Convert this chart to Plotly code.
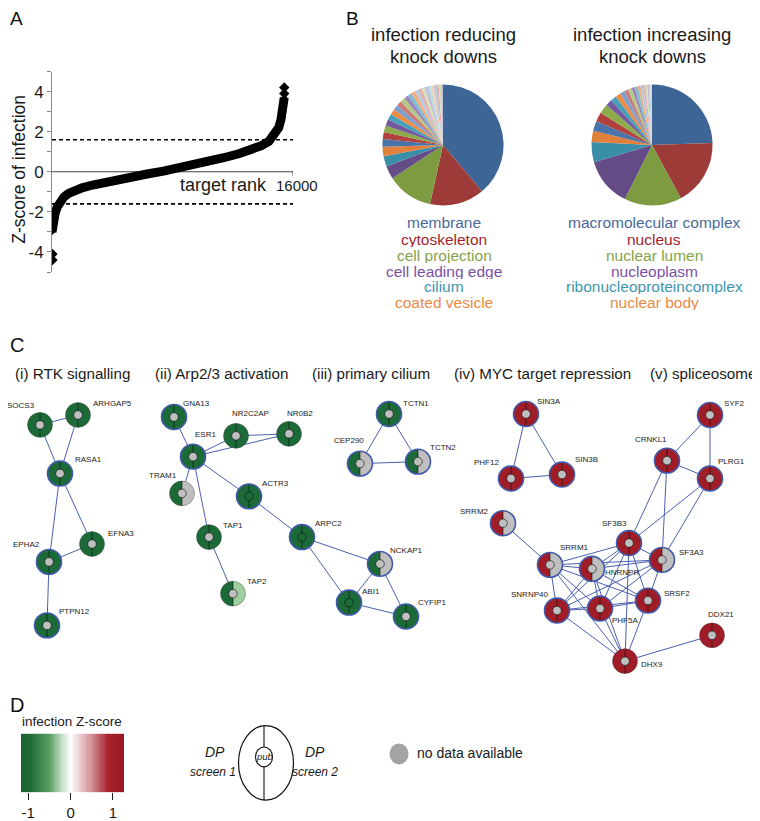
import numpy as np
import plotly.graph_objects as go

W, H = 760, 821          # reference picture size
OFF = 8                  # page body margin of the browser
FW, FH = W - OFF, H - OFF
FONT = "Liberation Sans, Arial, sans-serif"

# ================= Panel A data (ranked infection z-scores) =================
a_rank = [0, 40, 100, 200, 350, 550, 800, 1100, 1500, 2000, 2700, 3500, 4400,
          5400, 6400, 7400, 8400, 9400, 10400, 11400, 12400, 13200, 13900,
          14400, 14800, 15050, 15200, 15300, 15370, 15420]
a_z = [-3.0, -2.75, -2.45, -2.1, -1.75, -1.45, -1.25, -1.08, -0.93, -0.8, -0.66,
       -0.52, -0.38, -0.24, -0.1, 0.03, 0.17, 0.33, 0.5, 0.7, 0.9, 1.1, 1.3,
       1.52, 1.85, 2.2, 2.6, 3.0, 3.4, 3.7]
a_out_rank = [30, 30, 15420, 15420]
a_out_z = [-4.1, -4.4, 3.9, 4.2]
a_threshold = 1.6
a_rank_max = 16000
a_yticks = [-5, -4, -3, -2, -1, 0, 1, 2, 3, 4, 5]
a_yticklabels = ["", "-4", "", "-2", "", "0", "", "2", "", "4", ""]

# ================= Panel B data (GO cellular component shares, %) =================
b_reduce_named = ["membrane", "cytoskeleton", "cell projection",
                  "cell leading edge", "cilium", "coated vesicle"]
b_reduce_values = [39.2, 14.7, 12.4, 3.5, 2.8, 2.6,
                   2.0, 1.9, 1.8, 1.7, 1.6, 1.5, 1.4, 1.35, 1.3, 1.2, 1.1,
                   1.05, 1.0, 0.95, 0.9, 0.85, 0.8, 0.75, 0.7, 0.65, 0.6, 0.55]
b_increase_named = ["macromolecular complex", "nucleus", "nuclear lumen",
                    "nucleoplasm", "ribonucleoproteincomplex", "nuclear body"]
b_increase_values = [24.5, 17.6, 15.3, 13.0, 5.4, 3.0,
                     2.6, 2.5, 2.6, 1.7, 1.6, 1.4, 1.3, 1.0, 1.0, 0.9, 0.8,
                     0.7, 0.7, 0.6, 0.5, 0.5, 0.4, 0.4]

# ================= Panel C data (networks) =================
c_titles = ["(i) RTK signalling", "(ii) Arp2/3 activation", "(iii) primary cilium",
            "(iv) MYC target repression", "(v) spliceosome"]
# screen 1 / screen 2 / published: G = reducing, g = weakly reducing, R = increasing, N = no data
node_names = ["SOCS3", "ARHGAP5", "RASA1", "EFNA3", "EPHA2", "PTPN12",
              "GNA13", "ESR1", "NR2C2AP", "NR0B2", "TRAM1", "ACTR3", "TAP1", "TAP2",
              "ARPC2", "ABI1", "NCKAP1", "CYFIP1",
              "TCTN1", "CEP290", "TCTN2",
              "SIN3A", "PHF12", "SIN3B",
              "SYF2", "CRNKL1", "PLRG1", "SRRM2", "SF3B3", "SRRM1", "HNRNPR", "SF3A3",
              "SNRNP40", "PHF5A", "SRSF2", "DDX21", "DHX9"]
node_screen1 = ["G", "G", "G", "G", "G", "G",
                "G", "G", "G", "G", "G", "G", "G", "G", "G", "G", "G", "G",
                "G", "G", "G",
                "R", "R", "R",
                "R", "R", "R", "R", "R", "R", "R", "R", "R", "R", "R", "R", "R"]
node_screen2 = ["G", "G", "G", "G", "G", "G",
                "G", "G", "G", "G", "N", "G", "G", "g", "G", "G", "N", "G",
                "G", "N", "N",
                "R", "R", "R",
                "R", "R", "R", "N", "R", "N", "N", "N", "R", "R", "R", "R", "R"]
node_pub = ["N", "N", "N", "N", "N", "N",
            "N", "N", "N", "N", "N", "G", "N", "N", "G", "G", "N", "N",
            "N", "N", "N",
            "N", "N", "N",
            "N", "N", "N", "N", "N", "N", "N", "N", "N", "N", "N", "N", "N"]
node_ring = [0, 0, 1, 0, 1, 1,
             1, 1, 0, 0, 0, 1, 0, 0, 1, 1, 1, 1,
             1, 1, 1,
             1, 1, 1,
             1, 1, 1, 1, 1, 1, 1, 1, 1, 1, 1, 0, 0]
edges = [("SOCS3", "ARHGAP5"), ("SOCS3", "RASA1"), ("ARHGAP5", "RASA1"),
         ("RASA1", "EPHA2"), ("RASA1", "EFNA3"), ("EPHA2", "EFNA3"), ("EPHA2", "PTPN12"),
         ("GNA13", "ESR1"), ("ESR1", "NR2C2AP"), ("ESR1", "NR0B2"), ("NR2C2AP", "NR0B2"),
         ("ESR1", "TRAM1"), ("ESR1", "TAP1"), ("ESR1", "ACTR3"), ("TAP1", "TAP2"),
         ("ACTR3", "ARPC2"), ("ARPC2", "NCKAP1"), ("ARPC2", "ABI1"), ("ABI1", "NCKAP1"),
         ("ABI1", "CYFIP1"), ("NCKAP1", "CYFIP1"),
         ("TCTN1", "CEP290"), ("TCTN1", "TCTN2"), ("CEP290", "TCTN2"),
         ("SIN3A", "PHF12"), ("SIN3A", "SIN3B"), ("PHF12", "SIN3B"),
         ("SYF2", "CRNKL1"), ("SYF2", "PLRG1"), ("CRNKL1", "PLRG1"),
         ("CRNKL1", "SF3B3"), ("CRNKL1", "SF3A3"), ("PLRG1", "SF3B3"), ("PLRG1", "SF3A3"),
         ("SRRM2", "SRRM1"),
         ("SF3B3", "SRRM1"), ("SF3B3", "HNRNPR"), ("SF3B3", "SF3A3"), ("SF3B3", "SNRNP40"),
         ("SF3B3", "PHF5A"), ("SF3B3", "SRSF2"), ("SF3B3", "DHX9"),
         ("SRRM1", "HNRNPR"), ("SRRM1", "SF3A3"), ("SRRM1", "SNRNP40"), ("SRRM1", "PHF5A"),
         ("SRRM1", "SRSF2"), ("SRRM1", "DHX9"),
         ("HNRNPR", "SF3A3"), ("HNRNPR", "SNRNP40"), ("HNRNPR", "PHF5A"), ("HNRNPR", "SRSF2"),
         ("HNRNPR", "DHX9"),
         ("SF3A3", "SNRNP40"), ("SF3A3", "PHF5A"), ("SF3A3", "SRSF2"),
         ("SNRNP40", "PHF5A"), ("SNRNP40", "SRSF2"), ("SNRNP40", "DHX9"),
         ("PHF5A", "SRSF2"), ("PHF5A", "DHX9"), ("SRSF2", "DHX9"), ("DHX9", "DDX21")]

# ================= Panel D data =================
d_ticks = [-1, 0, 1]
d_range = [-1.17, 1.26]

# ---------------- layout (pixel positions of the network drawing) ----------------
NODE_POS = {
    "SOCS3": (40, 428), "ARHGAP5": (78, 418), "RASA1": (60, 477), "EFNA3": (92, 548),
    "EPHA2": (49, 566), "PTPN12": (47, 630),
    "GNA13": (174, 420), "ESR1": (193, 460), "NR2C2AP": (236, 439), "NR0B2": (289, 437),
    "TRAM1": (182, 497), "ACTR3": (249, 500), "TAP1": (209, 541), "TAP2": (233, 598),
    "ARPC2": (302, 541), "ABI1": (349, 607), "NCKAP1": (380, 568), "CYFIP1": (406, 621),
    "TCTN1": (389, 417), "CEP290": (360, 467), "TCTN2": (418, 465),
    "SIN3A": (526, 417), "PHF12": (511, 482), "SIN3B": (562, 478),
    "SYF2": (710, 418), "CRNKL1": (667, 464), "PLRG1": (710, 482), "SRRM2": (503, 527),
    "SF3B3": (629, 547), "SRRM1": (550, 569), "HNRNPR": (592, 573), "SF3A3": (662, 564),
    "SNRNP40": (557, 615), "PHF5A": (600, 613), "SRSF2": (648, 605), "DDX21": (712, 640),
    "DHX9": (625, 666),
}
LABEL_POS = {
    "SOCS3": (21, 408), "ARHGAP5": (112, 406), "RASA1": (88, 463), "EFNA3": (121, 537),
    "EPHA2": (26, 548), "PTPN12": (74, 616),
    "GNA13": (196, 406), "ESR1": (205, 438), "NR2C2AP": (250, 417), "NR0B2": (300, 417),
    "TRAM1": (163, 479), "ACTR3": (275, 487), "TAP1": (233, 529), "TAP2": (257, 586),
    "ARPC2": (328, 527), "ABI1": (371, 596), "NCKAP1": (406, 555), "CYFIP1": (432, 607),
    "TCTN1": (416, 406), "CEP290": (349, 444), "TCTN2": (443, 451),
    "SIN3A": (549, 404), "PHF12": (486, 466), "SIN3B": (586, 463),
    "SYF2": (734, 406), "CRNKL1": (651, 443), "PLRG1": (731, 465), "SRRM2": (474, 515),
    "SF3B3": (614, 527), "SRRM1": (574, 552), "HNRNPR": (622, 577), "SF3A3": (691, 557),
    "SNRNP40": (529, 599), "PHF5A": (625, 625), "SRSF2": (677, 598), "DDX21": (721, 619),
    "DHX9": (652, 669),
}
TITLE_X = [13, 153, 310, 452, 648]

COL = {"G": "#1b6a37", "g": "#9fcf9e", "R": "#a01d27", "N": "#bfbfbf"}
RING_BLUE = "#4259aa"
EDGE_BLUE = "#4b60b0"

BASE = ["#3d6697", "#9d3b39", "#7d9b40", "#664c86", "#3a8ea8", "#e0803a"]
CYC2 = ["#4a74a9", "#b0413f", "#8cab4a", "#7459a0", "#45a0ba", "#ee8c44"]
CYC3 = ["#7f9fcc", "#cc7a78", "#b3c984", "#9d87bb", "#7dbfd1", "#f5ad7a"]
CYC4 = ["#b8c8e0", "#e0b0ae", "#d3e0bd", "#c7bcd8", "#b6dce6", "#f8d0b4"]
PIE_COLORS = BASE + CYC2 + CYC3 + CYC4 + CYC4
LABEL_COLORS = ["#4a6a9c", "#a3252a", "#86a24a", "#7b4fa5", "#3f96b0", "#ea8a44"]


def px_x(x):
    return (x - OFF) / FW


def px_y(y):
    return 1 - (y - OFF) / FH


fig = go.Figure()
shapes = []
annotations = []


def label(text, x, y, size, color="#1a1a1a", anchor="center", **kw):
    annotations.append(dict(text=text, x=x, y=y, xref="x2", yref="y2", showarrow=False,
                            font=dict(size=size, color=color, family=FONT),
                            xanchor=anchor, yanchor="middle", **kw))


# ---------------- Panel A ----------------
fig.add_trace(go.Scatter(x=a_rank, y=a_z, mode="lines+markers",
                         line=dict(color="black", width=9),
                         marker=dict(color="black", size=5, symbol="diamond"),
                         xaxis="x", yaxis="y", hoverinfo="skip"))
fig.add_trace(go.Scatter(x=a_out_rank, y=a_out_z, mode="markers",
                         marker=dict(color="black", size=8, symbol="diamond"),
                         xaxis="x", yaxis="y", hoverinfo="skip"))
for yv in (a_threshold, -a_threshold):
    shapes.append(dict(type="line", xref="x", yref="y", x0=0, x1=a_rank_max, y0=yv, y1=yv,
                       line=dict(color="black", width=1.6, dash="4px,3px"), layer="below"))
shapes.append(dict(type="line", xref="x", yref="y", x0=0, x1=a_rank_max, y0=0, y1=0,
                   line=dict(color="#444", width=1), layer="below"))
shapes.append(dict(type="line", xref="x", yref="y", x0=a_rank_max, x1=a_rank_max, y0=0, y1=-0.2,
                   line=dict(color="#444", width=1), layer="below"))
label("A", 8, 19, 19, "#111", anchor="left")
label("Z-score of infection", 19, 171, 17.5, textangle=-90)
label("target rank", 223, 186, 18)
label("16000", 297, 187, 15)

# ---------------- Panel B ----------------
label("B", 344, 19, 19, "#111", anchor="left")
R_PIE = 61
for cx, title, named, vals, lx in [
        (443, ["infection reducing", "knock downs"], b_reduce_named, b_reduce_values, 444),
        (652, ["infection increasing", "knock downs"], b_increase_named, b_increase_values, 654)]:
    labels = named + ["other term %d" % (i + 1) for i in range(len(vals) - len(named))]
    fig.add_trace(go.Pie(values=vals, labels=labels, sort=False, direction="clockwise",
                         rotation=0, textinfo="none", hoverinfo="skip", showlegend=False,
                         marker=dict(colors=PIE_COLORS[:len(vals)], line=dict(width=0)),
                         domain=dict(x=[px_x(cx - R_PIE), px_x(cx + R_PIE)],
                                     y=[px_y(146 + R_PIE), px_y(146 - R_PIE)])))
    for ty, t in zip([35, 57], title):
        label(t, cx, ty, 18.5)
    for i, (nm, ly) in enumerate(zip(named, [224, 241, 257, 273, 289, 305])):
        label(nm, lx, ly, 15.5, LABEL_COLORS[i], height=15, borderpad=0)

# ---------------- Panel C ----------------
label("C", 8, 347, 20, "#111", anchor="left")
for t, tx in zip(c_titles, TITLE_X):
    label(t, tx, 376, 15.2, anchor="left")

ex, ey = [], []
for a, b in edges:
    ex += [NODE_POS[a][0], NODE_POS[b][0], None]
    ey += [NODE_POS[a][1], NODE_POS[b][1], None]
fig.add_trace(go.Scatter(x=ex, y=ey, mode="lines", line=dict(color=EDGE_BLUE, width=1),
                         xaxis="x2", yaxis="y2", hoverinfo="skip"))

RN, RI = 12.5, 4.3
phi = np.linspace(-np.pi / 2, np.pi / 2, 31)


def half_path(x, y, side):
    pts = [(x + side * RN * np.cos(p), y + RN * np.sin(p)) for p in phi]
    return "M " + " L ".join("%.2f,%.2f" % pt for pt in pts) + " Z"


for name, s1, s2, pub, ring in zip(node_names, node_screen1, node_screen2, node_pub, node_ring):
    x, y = NODE_POS[name]
    shapes.append(dict(type="path", xref="x2", yref="y2", path=half_path(x, y, -1),
                       fillcolor=COL[s1], line=dict(width=0)))
    shapes.append(dict(type="path", xref="x2", yref="y2", path=half_path(x, y, 1),
                       fillcolor=COL[s2], line=dict(width=0)))
    shapes.append(dict(type="line", xref="x2", yref="y2", x0=x, x1=x, y0=y - RN, y1=y + RN,
                       line=dict(color="rgba(15,15,15,0.75)", width=0.8)))
    if ring:
        ring_line = dict(color=RING_BLUE, width=1.6)
    else:
        ring_line = dict(color="rgba(60,60,60,0.55)", width=0.7)
    shapes.append(dict(type="circle", xref="x2", yref="y2", x0=x - RN, x1=x + RN,
                       y0=y - RN, y1=y + RN, line=ring_line))
    shapes.append(dict(type="circle", xref="x2", yref="y2", x0=x - RI, x1=x + RI,
                       y0=y - RI, y1=y + RI, fillcolor=COL[pub],
                       line=dict(color="rgba(20,20,20,0.8)", width=0.8)))
    lx, ly = LABEL_POS[name]
    label(name, lx, ly, 8, "#222")

# ---------------- Panel D ----------------
label("D", 8, 710, 20, "#111", anchor="left")
label("infection Z-score", 72, 727, 13.5)
grad_x = list(np.linspace(d_range[0], d_range[1], 120))
fig.add_trace(go.Heatmap(x=grad_x, y=[0.5], z=[grad_x], zmin=-1.25, zmax=1.25,
                         colorscale=[[0, "#19602f"], [0.12, "#1f6b36"], [0.3, "#5a9e64"],
                                     [0.42, "#c4e0c6"], [0.5, "#ffffff"], [0.58, "#efd0d3"],
                                     [0.7, "#d18e94"], [0.85, "#a8242d"], [1, "#9a1a22"]],
                         showscale=False, xaxis="x3", yaxis="y3", hoverinfo="skip"))

# DP / pub legend
shapes += [
    dict(type="circle", xref="x2", yref="y2", x0=238.5, x1=293.5, y0=731, y1=806,
         line=dict(color="#111", width=1.2)),
    dict(type="circle", xref="x2", yref="y2", x0=255.5, x1=272.5, y0=752.5, y1=772.5,
         line=dict(color="#111", width=1.1)),
    dict(type="line", xref="x2", yref="y2", x0=264, x1=264, y0=731, y1=752.5,
         line=dict(color="#111", width=1.1)),
    dict(type="line", xref="x2", yref="y2", x0=264, x1=264, y0=772.5, y1=806,
         line=dict(color="#111", width=1.1)),
    dict(type="circle", xref="x2", yref="y2", x0=389.5, x1=408.5, y0=749, y1=770,
         fillcolor="#a3a3a3", line=dict(width=0)),
]
for t, x, y, s in [("pub", 264, 762.5, 9.5), ("DP", 214.5, 758, 14), ("screen 1", 212.5, 778, 12),
                   ("DP", 315, 758, 14), ("screen 2", 314.5, 778, 12)]:
    label("<i>%s</i>" % t, x, y, s)
label("no data available", 415, 759, 14, anchor="left")

fig.update_layout(
    width=FW, height=FH, margin=dict(l=0, r=0, t=0, b=0, pad=0),
    paper_bgcolor="white", plot_bgcolor="rgba(0,0,0,0)", showlegend=False,
    font=dict(family=FONT, color="#1a1a1a"),
    xaxis=dict(domain=[px_x(52), px_x(293)], range=[0, a_rank_max], visible=False,
               anchor="y", fixedrange=True),
    yaxis=dict(domain=[px_y(274), px_y(72)], range=[-5, 5], anchor="x",
               showline=True, linecolor="#8a8a8a", linewidth=1, showgrid=False,
               zeroline=False, ticks="outside", ticklen=4, tickcolor="#8a8a8a",
               tickvals=a_yticks, ticktext=a_yticklabels,
               tickfont=dict(size=17, color="#1a1a1a", family=FONT), fixedrange=True),
    xaxis2=dict(domain=[0, 1], range=[OFF, W], visible=False, anchor="y2", fixedrange=True),
    yaxis2=dict(domain=[0, 1], range=[H, OFF], visible=False, anchor="x2", fixedrange=True),
    xaxis3=dict(domain=[px_x(21), px_x(124)], range=d_range, anchor="y3",
                tickvals=d_ticks, ticktext=[str(v) for v in d_ticks], ticks="outside",
                ticklen=7, tickcolor="#222", showline=False, showgrid=False, zeroline=False,
                tickfont=dict(size=15, color="#1a1a1a", family=FONT), fixedrange=True),
    yaxis3=dict(domain=[px_y(798), px_y(739)], range=[0, 1], visible=False, anchor="x3",
                fixedrange=True),
    shapes=shapes, annotations=annotations,
)

fig.write_html("out.html")
